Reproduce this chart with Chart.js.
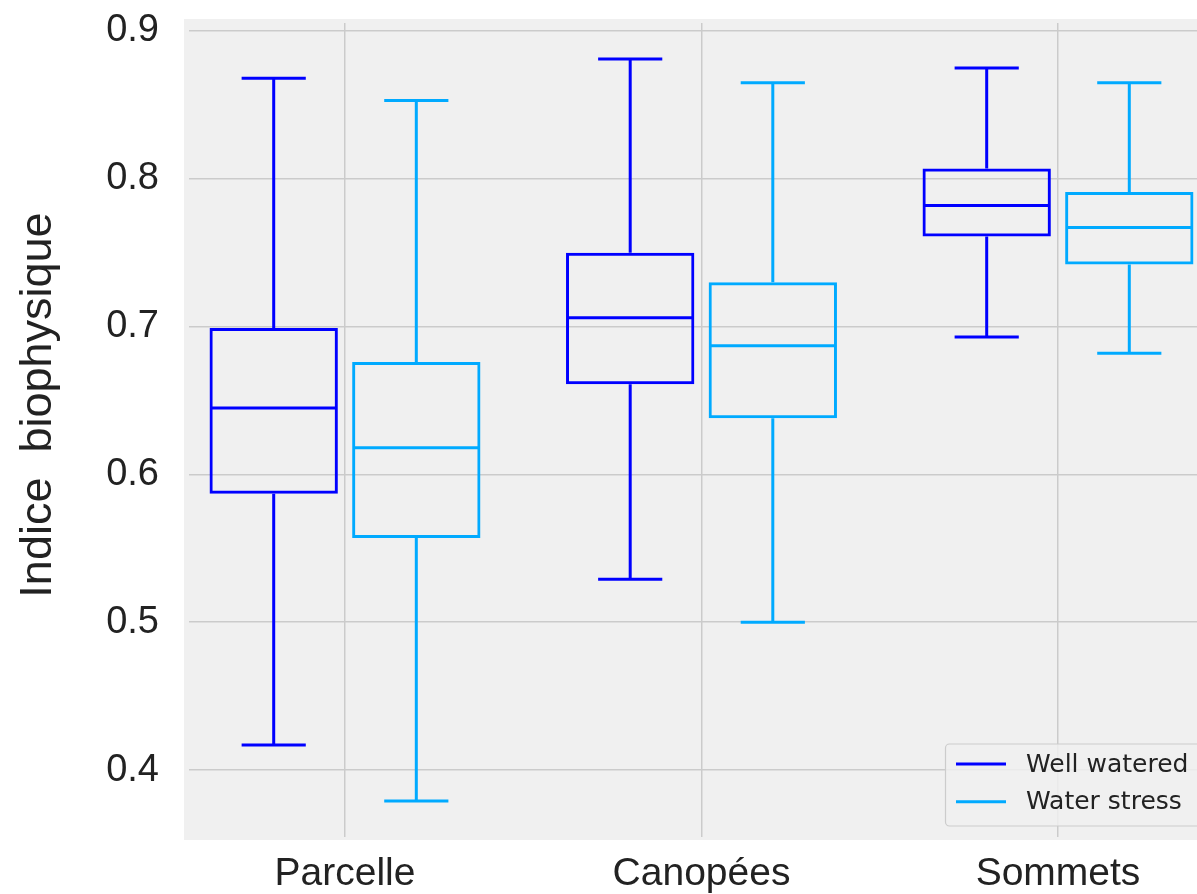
<!DOCTYPE html>
<html>
<head>
<meta charset="utf-8">
<script src="https://cdn.jsdelivr.net/npm/chart.js@4/dist/chart.umd.min.js"></script>
<style>
  html, body { margin: 0; padding: 0; background: #ffffff; overflow: hidden; }
  #wrap { position: absolute; left: 0; top: 0; width: 1230px; height: 894px; }
</style>
</head>
<body>
<div id="wrap"><canvas id="chart" width="1230" height="894"></canvas></div>
<script>
// Sites and box-plot statistics per irrigation regime
const categories = ['Parcelle', 'Canopées', 'Sommets'];

const wellWateredMin    = [0.417, 0.529, 0.693];
const wellWateredQ1     = [0.587, 0.661, 0.761];
const wellWateredMedian = [0.645, 0.706, 0.782];
const wellWateredQ3     = [0.699, 0.750, 0.807];
const wellWateredMax    = [0.868, 0.881, 0.875];

const waterStressMin    = [0.379, 0.500, 0.682];
const waterStressQ1     = [0.557, 0.638, 0.742];
const waterStressMedian = [0.618, 0.687, 0.767];
const waterStressQ3     = [0.676, 0.730, 0.791];
const waterStressMax    = [0.853, 0.865, 0.865];

const yTickValues = [0.4, 0.5, 0.6, 0.7, 0.8, 0.9];
const seriesLabels = ['Well watered', 'Water stress'];
const seriesColors = ['#0000ff', '#00aaff'];

const TEXT = '#222222';
const SANS = "'Liberation Sans', Arial, sans-serif";

function boxSeries(label, color, lo, q1, med, q3, hi) {
  return {
    label: label,
    data: categories.map((c, i) => ({ x: i, y: [q1[i], q3[i]] })),
    whiskerLow: lo,
    whiskerHigh: hi,
    medians: med,
    backgroundColor: 'rgba(0,0,0,0)',
    borderColor: color,
    borderWidth: 3,
    borderSkipped: false,
    categoryPercentage: 0.8,
    barPercentage: 0.9
  };
}

// Panel background, slightly larger than the plotting area
const panelBackground = {
  id: 'panelBackground',
  beforeDraw(chart) {
    const a = chart.chartArea, ctx = chart.ctx;
    ctx.save();
    ctx.fillStyle = '#f0f0f0';
    ctx.fillRect(a.left - 5, a.top - 4, a.right - a.left + 10, a.bottom - a.top + 7);
    ctx.restore();
  }
};

// Medians, whiskers and caps, placed from each bar's geometry and the y scale
const boxWhiskers = {
  id: 'boxWhiskers',
  afterDatasetsDraw(chart) {
    const ctx = chart.ctx, y = chart.scales.y;
    ctx.save();
    ctx.lineWidth = 3;
    ctx.lineCap = 'butt';
    chart.data.datasets.forEach((ds, d) => {
      const meta = chart.getDatasetMeta(d);
      ctx.strokeStyle = ds.borderColor;
      meta.data.forEach((bar, i) => {
        const cx = bar.x, w = bar.width;
        const yLo = y.getPixelForValue(ds.whiskerLow[i]);
        const yHi = y.getPixelForValue(ds.whiskerHigh[i]);
        const yQ1 = y.getPixelForValue(ds.data[i].y[0]);
        const yQ3 = y.getPixelForValue(ds.data[i].y[1]);
        const yMed = y.getPixelForValue(ds.medians[i]);
        const cap = w / 4;
        ctx.beginPath();
        // whiskers
        ctx.moveTo(cx, yQ3); ctx.lineTo(cx, yHi);
        ctx.moveTo(cx, yQ1); ctx.lineTo(cx, yLo);
        // caps
        ctx.moveTo(cx - cap, yHi); ctx.lineTo(cx + cap, yHi);
        ctx.moveTo(cx - cap, yLo); ctx.lineTo(cx + cap, yLo);
        // median
        ctx.moveTo(cx - w / 2 + 1.5, yMed); ctx.lineTo(cx + w / 2 - 1.5, yMed);
        ctx.stroke();
      });
    });
    ctx.restore();
  }
};

// Y-axis title and the legend box in the lower right corner
const annotations = {
  id: 'annotations',
  afterDraw(chart) {
    const ctx = chart.ctx;
    ctx.save();
    ctx.fillStyle = TEXT;
    ctx.font = '45px ' + SANS;
    ctx.textAlign = 'center';
    ctx.textBaseline = 'middle';
    ctx.translate(39, 405);
    ctx.rotate(-Math.PI / 2);
    ctx.fillText('Indice  biophysique', 0, 0);
    ctx.restore();

    ctx.save();
    const bx = 945.5, by = 744, bw = 270, bh = 82, r = 4;
    ctx.beginPath();
    ctx.moveTo(bx + r, by);
    ctx.lineTo(bx + bw - r, by);
    ctx.arcTo(bx + bw, by, bx + bw, by + r, r);
    ctx.lineTo(bx + bw, by + bh - r);
    ctx.arcTo(bx + bw, by + bh, bx + bw - r, by + bh, r);
    ctx.lineTo(bx + r, by + bh);
    ctx.arcTo(bx, by + bh, bx, by + bh - r, r);
    ctx.lineTo(bx, by + r);
    ctx.arcTo(bx, by, bx + r, by, r);
    ctx.closePath();
    ctx.fillStyle = 'rgba(240,240,240,0.85)';
    ctx.fill();
    ctx.strokeStyle = '#cccccc';
    ctx.lineWidth = 1.2;
    ctx.stroke();

    ctx.font = "25px 'DejaVu Sans', sans-serif";
    ctx.textAlign = 'left';
    ctx.textBaseline = 'middle';
    chart.data.datasets.forEach((ds, d) => {
      const ry = 764 + d * 37.7;
      ctx.strokeStyle = ds.borderColor;
      ctx.lineWidth = 3;
      ctx.beginPath();
      ctx.moveTo(956, ry); ctx.lineTo(1006, ry);
      ctx.stroke();
      ctx.fillStyle = TEXT;
      ctx.fillText(ds.label, 1026, ry + 1);
    });
    ctx.restore();
  }
};

new Chart(document.getElementById('chart'), {
  type: 'bar',
  data: {
    datasets: [
      boxSeries(seriesLabels[0], seriesColors[0], wellWateredMin, wellWateredQ1, wellWateredMedian, wellWateredQ3, wellWateredMax),
      boxSeries(seriesLabels[1], seriesColors[1], waterStressMin, waterStressQ1, waterStressMedian, waterStressQ3, waterStressMax)
    ]
  },
  options: {
    responsive: false,
    animation: false,
    layout: { padding: { left: 0, top: 23, right: 16, bottom: 0 } },
    plugins: { legend: { display: false }, tooltip: { enabled: false } },
    scales: {
      x: {
        type: 'linear',
        min: -0.4376,
        max: 2.4376,
        offset: false,
        border: { display: false },
        grid: { color: '#cbcbcb', lineWidth: 1.5, drawTicks: false, offset: false },
        afterBuildTicks(scale) { scale.ticks = categories.map((c, i) => ({ value: i })); },
        afterFit(scale) { scale.height = 57; scale.paddingLeft = 0; scale.paddingRight = 0; },
        ticks: {
          padding: 14,
          color: TEXT,
          font: { family: SANS, size: 39 },
          callback: (v) => categories[v]
        }
      },
      y: {
        min: 0.3547,
        max: 0.9054,
        border: { display: false },
        grid: { color: '#cbcbcb', lineWidth: 1.5, drawTicks: false },
        afterBuildTicks(scale) { scale.ticks = yTickValues.map(v => ({ value: v })); },
        afterFit(scale) { scale.width = 189; scale.paddingTop = 0; scale.paddingBottom = 0; },
        ticks: {
          padding: 30,
          color: TEXT,
          font: { family: SANS, size: 38 },
          callback: (v) => Number(v).toFixed(1)
        }
      }
    }
  },
  plugins: [panelBackground, boxWhiskers, annotations]
});
</script>
</body>
</html>
